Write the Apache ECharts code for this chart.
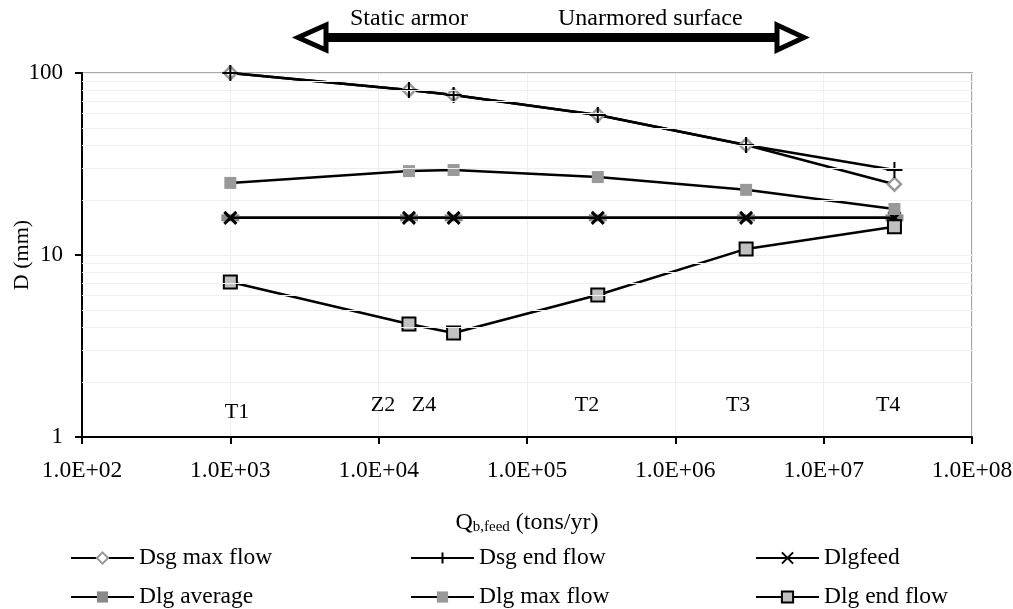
<!DOCTYPE html>
<html><head><meta charset="utf-8">
<script src="https://cdn.jsdelivr.net/npm/echarts@6/dist/echarts.min.js"></script>
<style>html,body{margin:0;padding:0;background:#fff}#c{width:1013px;height:609px}</style>
</head><body><div id="c"></div>
<script>
const FONT = 'Liberation Serif';
const xValues = [1000, 16000, 32000, 300000, 3000000, 30000000];
const dsgMaxFlow = [100, 80.7, 75.7, 58.8, 40.2, 24.5];
const dsgEndFlow = [100, 80.7, 75.7, 58.8, 40.2, 29.3];
const dlgFeed = [16, 16, 16, 16, 16, 16];
const dlgAverage = [16, 16, 16, 16, 16, 16];
const dlgMaxFlow = [24.9, 28.9, 29.3, 26.8, 22.8, 17.9];
const dlgEndFlow = [7.1, 4.18, 3.73, 6.03, 10.8, 14.3];
const siteLabels = ['T1', 'Z2', 'Z4', 'T2', 'T3', 'T4'];
const siteLabelX = [1110, 10700, 20200, 254000, 2650000, 27200000];
const siteLabelY = [1.36, 1.5, 1.5, 1.5, 1.5, 1.5];
const minorGridY = [2,3,4,5,6,7,8,9,20,30,40,50,60,70,80,90];
const seriesNames = ['Dsg max flow','Dsg end flow','Dlgfeed','Dlg average','Dlg max flow','Dlg end flow'];

const pair = arr => arr.map((v, i) => [xValues[i], v]);
const plusPath = 'path://M5,0L5,10M0,5L10,5';
const xPath = 'path://M0,0L10,10M10,0L0,10';

const chart = echarts.init(document.getElementById('c'), null, {renderer: 'canvas'});
const lineBase = {type: 'line', lineStyle: {color: '#000', width: 2.5}, z: 3, animation: false};

const legendCols = [70, 410, 755];
const legendRows = [546, 585];
const legends = seriesNames.map((n, i) => ({
  data: [n], left: legendCols[i % 3], top: legendRows[Math.floor(i / 3)], padding: 0,
  itemWidth: 63, itemHeight: 14, itemGap: 5,
  textStyle: {fontFamily: FONT, fontSize: 23.5, color: '#000'}
}));

chart.setOption({
  animation: false,
  backgroundColor: '#fff',
  grid: {left: 82, right: 41, top: 73, bottom: 172, show: true, borderColor: '#8c8c8c', borderWidth: 1.5,
    backgroundColor: 'transparent', containLabel: false, outerBoundsMode: 'none'},
  legend: legends,
  xAxis: {
    type: 'log', logBase: 10, min: 100, max: 1e8, splitNumber: 6,
    name: '{a|Q}{b|b,feed}{a| (tons/yr)}', nameLocation: 'middle', nameGap: 73, nameMoveOverlap: false,
    nameTextStyle: {rich: {a: {fontFamily: FONT, fontSize: 24, color: '#000'}, b: {fontFamily: FONT, fontSize: 15, color: '#000', padding: [10, 0, 0, 0]}}},
    axisLine: {lineStyle: {color: '#000', width: 2}},
    axisTick: {show: true, inside: false, length: 7, lineStyle: {color: '#000', width: 2}},
    axisLabel: {fontFamily: FONT, fontSize: 23.5, color: '#000', margin: 22, hideOverlap: false,
      formatter: v => { const e = Math.round(Math.log10(v)); return '1.0E+' + (e < 10 ? '0' : '') + e; }},
    splitLine: {show: true, lineStyle: {color: '#efefef', width: 1}},
    minorTick: {show: false}
  },
  yAxis: {
    type: 'log', logBase: 10, min: 1, max: 100, splitNumber: 2,
    name: 'D (mm)', nameLocation: 'middle', nameGap: 49, nameMoveOverlap: false,
    nameTextStyle: {fontFamily: FONT, fontSize: 22, color: '#000'},
    axisLine: {lineStyle: {color: '#000', width: 2}},
    axisTick: {show: true, inside: false, length: 7, lineStyle: {color: '#000', width: 2}},
    axisLabel: {fontFamily: FONT, fontSize: 23, color: '#000', margin: 19},
    splitLine: {show: true, lineStyle: {color: '#efefef', width: 1}}
  },
  graphic: [
    {type: 'rect', shape: {x: 320, y: 33, width: 462, height: 9}, style: {fill: '#000'}, z: 10},
    {type: 'polygon', shape: {points: [[326, 25], [298, 37.5], [326, 50]]}, style: {fill: '#fff', stroke: '#000', lineWidth: 5, lineJoin: 'miter'}, z: 11},
    {type: 'polygon', shape: {points: [[777, 25], [804, 37.5], [777, 50]]}, style: {fill: '#fff', stroke: '#000', lineWidth: 5, lineJoin: 'miter'}, z: 11},
    {type: 'text', left: 350, top: 7, style: {text: 'Static armor', fontFamily: FONT, fontSize: 24, fill: '#000'}, z: 11},
    {type: 'text', left: 558, top: 7, style: {text: 'Unarmored surface', fontFamily: FONT, fontSize: 24, fill: '#000'}, z: 11}
  ],
  series: [
    {type: 'line', data: [], z: 1, silent: true,
      markLine: {silent: true, symbol: 'none', label: {show: false}, animation: false,
        lineStyle: {color: '#efefef', width: 1, type: 'solid'},
        data: minorGridY.map(v => ({yAxis: v}))}},
    Object.assign({}, lineBase, {name: 'Dsg max flow', data: pair(dsgMaxFlow), symbol: 'diamond', symbolSize: 13,
      itemStyle: {color: '#fff', borderColor: '#999', borderWidth: 2.5}}),
    Object.assign({}, lineBase, {name: 'Dsg end flow', data: pair(dsgEndFlow), symbol: plusPath, symbolSize: 16,
      itemStyle: {color: 'none', borderColor: '#000', borderWidth: 2}}),
    Object.assign({}, lineBase, {name: 'Dlgfeed', data: pair(dlgFeed), symbol: xPath, symbolSize: 12,
      itemStyle: {color: 'none', borderColor: '#000', borderWidth: 3}}),
    Object.assign({}, lineBase, {name: 'Dlg average', data: pair(dlgAverage), symbol: 'rect', symbolSize: [18, 7],
      itemStyle: {color: '#8a8a8a', borderWidth: 0}, z: 2}),
    Object.assign({}, lineBase, {name: 'Dlg max flow', data: pair(dlgMaxFlow), symbol: 'rect', symbolSize: 12,
      itemStyle: {color: '#999', borderWidth: 0}}),
    Object.assign({}, lineBase, {name: 'Dlg end flow', data: pair(dlgEndFlow), symbol: 'rect', symbolSize: 13,
      itemStyle: {color: '#c0c0c0', borderColor: '#000', borderWidth: 2}}),
    {type: 'scatter', silent: true, symbol: 'circle', symbolSize: 0.1, itemStyle: {color: '#000', opacity: 1}, z: 4,
      data: siteLabels.map((s, i) => [siteLabelX[i], siteLabelY[i], s]),
      label: {show: true, position: 'inside', formatter: p => p.data[2], fontFamily: FONT, fontSize: 22,
        color: '#000', opacity: 1, textBorderWidth: 0, textBorderColor: 'transparent'}}
  ]
});
</script></body></html>
